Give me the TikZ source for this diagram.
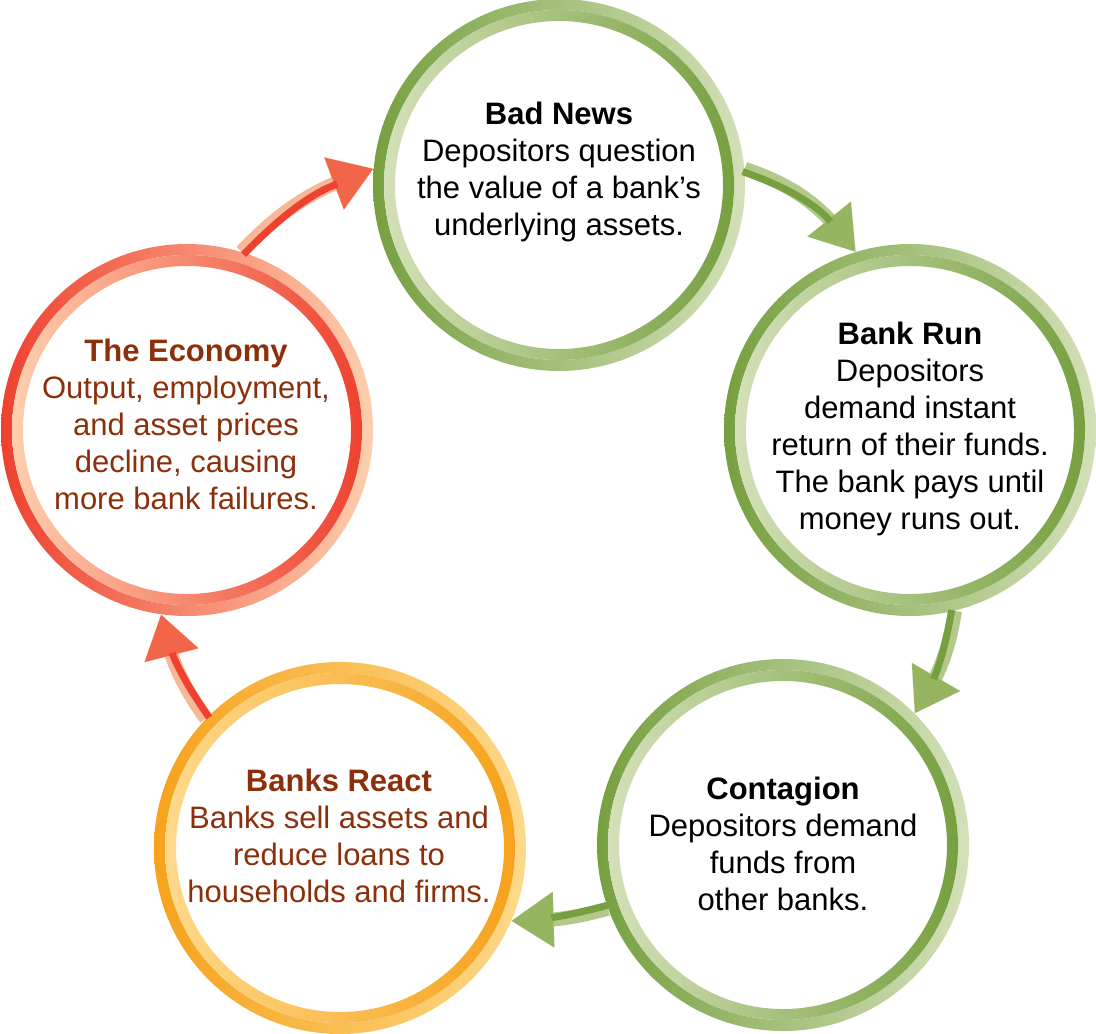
\documentclass[tikz,border=0pt]{standalone}
\usepackage{fontspec}
\setmainfont{Liberation Sans}
\usetikzlibrary{arrows.meta,bending}
\definecolor{leaf}{HTML}{76A040}
\definecolor{leaflight}{HTML}{D4E0B8}
\definecolor{leafshaft}{HTML}{B3C98C}
\definecolor{leafhead}{HTML}{96B561}
\definecolor{amber}{HTML}{F6A21C}
\definecolor{amberlight}{HTML}{FED98B}
\definecolor{flame}{HTML}{EF4130}
\definecolor{flamelight}{HTML}{FDCFAE}
\definecolor{flameshaft}{HTML}{F8B898}
\definecolor{flamehead}{HTML}{F26549}
\definecolor{rust}{HTML}{8C2F0B}
\newcommand{\bubblefont}{\fontsize{15.5}{18.5}\selectfont}

\tikzset{
  bubble/.style={circle, minimum size=186pt, inner sep=0pt},
  blurb/.style={align=center, font=\bubblefont, inner sep=0pt},
}

\begin{document}
\begin{tikzpicture}[x=0.5pt, y=-0.5pt]
\useasboundingbox (0,0) rectangle (1096,1033);

% the five stages of the cycle
\node[bubble] (bad)     at (559,185) {};
\node[bubble] (run)     at (910,430) {};
\node[bubble] (spread)  at (783,845) {};
\node[bubble] (react)   at (340,848) {};
\node[bubble] (economy) at (187,430) {};

% two-tone rings
\foreach \n/\dk/\lt in {bad/leaf/leaflight, run/leaf/leaflight, spread/leaf/leaflight,
                        react/amber/amberlight, economy/flame/flamelight}
{
  \shade[left color=\dk, right color=\lt, even odd rule]
    (\n.center) circle[radius=93pt] circle[radius=87.5pt];
  \shade[left color=\lt, right color=\dk, even odd rule]
    (\n.center) circle[radius=87.5pt] circle[radius=82pt];
}

% texts
\node[blurb] (badtext) at (559,172) {\textbf{Bad News}\\Depositors question\\the value of a bank’s\\underlying assets.};
\node[blurb] (runtext) at (910,429) {\textbf{Bank Run}\\Depositors\\demand instant\\return of their funds.\\The bank pays until\\money runs out.};
\node[blurb] (spreadtext) at (783,844) {\textbf{Contagion}\\Depositors demand\\funds from\\other banks.};
\node[blurb, text=rust] (reacttext) at (339,836) {\textbf{Banks React}\\Banks sell assets and\\reduce loans to\\households and firms.};
\node[blurb, text=rust] (economytext) at (186,424) {\textbf{The Economy}\\Output, employment,\\and asset prices\\decline, causing\\more bank failures.};

% arrows round the cycle
\foreach \from/\to/\bend/\lt/\dk/\hd/\inward in {
    bad.5/run.107/18/leafshaft/leaf/leafhead/235,
    run.-76/spread.45/12/leafshaft/leaf/leafhead/166,
    spread.200/react.-23/8/leafshaft/leaf/leafhead/90,
    react.136/economy.-98/12/flameshaft/flame/flamehead/17,
    economy.73/bad.175/14/flameshaft/flame/flamehead/-54}
{
  \draw[line width=7pt, \lt,
        -{Triangle[length=21pt, width=28pt, line width=0.01pt, fill=\hd]}]
    (\from) to[bend left=\bend] (\to);
  \draw[line width=3.5pt, \dk, shorten >=20pt,
        transform canvas={shift={(\inward:1.75pt)}}]
    (\from) to[bend left=\bend] (\to);
}
\end{tikzpicture}
\end{document}
